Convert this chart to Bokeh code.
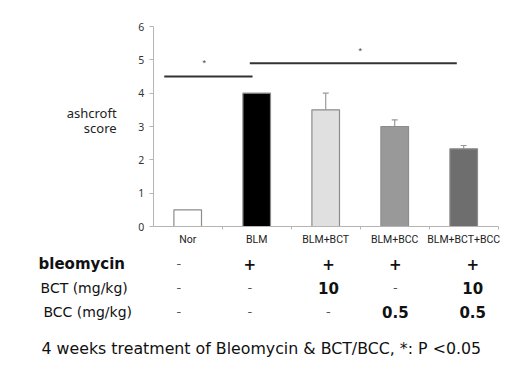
from bokeh.plotting import figure
from bokeh.models import (ColumnDataSource, Range1d, FixedTicker, LinearAxis,
                          Whisker, TeeHead, Label)
from bokeh.embed import file_html
from bokeh.resources import INLINE

groups = ["Nor", "BLM", "BLM+BCT", "BLM+BCC", "BLM+BCT+BCC"]
scores = [0.5, 4.0, 3.5, 3.0, 2.33]
errors = [0.0, 0.0, 0.5, 0.2, 0.1]
bar_colors = ["#ffffff", "#000000", "#e0e0e0", "#999999", "#6e6e6e"]
y_ticks = [0, 1, 2, 3, 4, 5, 6]

row_names = ["bleomycin", "BCT (mg/kg)", "BCC (mg/kg)"]
bleomycin_row = ["-", "+", "+", "+", "+"]
bct_row = ["-", "-", "10", "-", "10"]
bcc_row = ["-", "-", "-", "0.5", "0.5"]
footer = "4 weeks treatment of Bleomycin & BCT/BCC, *: P <0.05"

# significance comparisons
sig_x0 = [0.16, 1.40]
sig_x1 = [1.44, 4.40]
sig_y = [4.5, 4.9]
star_x = [0.74, 3.0]
star_y = [4.92, 5.27]

FONT = "Noto Sans"
TFONT = "DejaVu Sans"
W, H = 512, 372
UX, UY = 69.0, 200.0 / 6      # pixels per category / per score unit
X0PX, Y0PX = 152.7, 226.0     # pixel position of the axes origin

pos = [i + 0.5 for i in range(len(groups))]
bounds_x = [float(i) for i in range(1, len(groups) + 1)]

p = figure(width=W, height=H, output_backend="svg", toolbar_location=None,
           x_range=Range1d(-X0PX / UX, (W - X0PX) / UX),
           y_range=Range1d(-(H - Y0PX) / UY, Y0PX / UY),
           x_axis_location=None, y_axis_location=None,
           min_border=0)
p.outline_line_color = None
p.xgrid.visible = False
p.ygrid.visible = False

src = ColumnDataSource(dict(x=pos, v=scores, c=bar_colors))
p.vbar(x="x", top="v", width=0.4, fill_color="c", line_color="#8c8c8c",
       line_width=1.2, source=src)

err_src = ColumnDataSource(dict(x=pos[2:], v=scores[2:],
                                up=[s + e for s, e in zip(scores[2:], errors[2:])]))
p.add_layout(Whisker(base="x", upper="up", lower="v", source=err_src,
                     line_color="#999999", line_width=1.2,
                     upper_head=TeeHead(size=6, line_color="#999999", line_width=1.2),
                     lower_head=None))

p.segment(x0=sig_x0, y0=sig_y, x1=sig_x1, y1=sig_y, line_color="#333333",
          line_width=2)
p.text(x=star_x, y=star_y, text=["*", "*"], text_font_size="9px",
       text_align="center", text_baseline="middle", text_color="#444444")

yax = LinearAxis(fixed_location=0, bounds=(0, 6),
                 ticker=FixedTicker(ticks=y_ticks))
yax.axis_line_color = "#b5b5b5"
yax.major_tick_line_color = "#b5b5b5"
yax.major_tick_out = 4
yax.major_tick_in = 0
yax.minor_tick_line_color = None
yax.major_label_standoff = 5
yax.major_label_text_font = FONT
yax.major_label_text_font_size = "10.5px"
yax.major_label_text_color = "#333333"
p.add_layout(yax, "left")

xax = LinearAxis(fixed_location=0, bounds=(0, len(groups)),
                 ticker=FixedTicker(ticks=pos, minor_ticks=bounds_x),
                 major_label_overrides={x: g for x, g in zip(pos, groups)})
xax.axis_line_color = "#b5b5b5"
xax.major_tick_line_color = None
xax.minor_tick_line_color = "#b5b5b5"
xax.minor_tick_out = 3
xax.minor_tick_in = 0
xax.major_label_standoff = 0
xax.major_label_text_font = "Roboto"
xax.major_label_text_font_size = "10.5px"
xax.major_label_text_color = "#222222"
p.add_layout(xax, "below")

# y axis title (horizontal, two lines, right aligned)
for txt, yy in [("ashcroft", 3.42), ("score", 2.97)]:
    p.add_layout(Label(x=-0.53, y=yy, text=txt, text_align="right",
                       text_baseline="middle", text_font=FONT,
                       text_font_size="13px", text_color="#222222"))

# treatment table
col_x = [0.37, 1.40, 2.54, 3.51, 4.63]
row_y = [-1.11, -1.83, -2.55]
row_x = [-1.662, -1.633, -1.59]
row_sizes = ["15px", "14px", "14px"]
row_bold = ["bold", "normal", "normal"]
for name, rx, ry, fs, fw in zip(row_names, row_x, row_y, row_sizes, row_bold):
    p.add_layout(Label(x=rx, y=ry, text=name, text_align="left",
                       text_baseline="middle", text_font=TFONT,
                       text_font_size=fs, text_font_style=fw,
                       text_color="#111111"))
for row, ry in zip([bleomycin_row, bct_row, bcc_row], row_y):
    for cx, val in zip(col_x, row):
        dash = val == "-"
        p.add_layout(Label(x=cx, y=ry, text=val, text_align="center",
                           text_baseline="middle", text_font=TFONT,
                           text_font_size="13px" if dash else "15px",
                           text_font_style="normal" if dash else "bold",
                           text_color="#555555" if dash else "#111111"))

p.add_layout(Label(x=-1.619, y=-3.66, text=footer, text_align="left",
                   text_baseline="middle", text_font=TFONT,
                   text_font_size="15.8px", text_color="#111111"))

open("out.html", "w").write(file_html(p, INLINE))
